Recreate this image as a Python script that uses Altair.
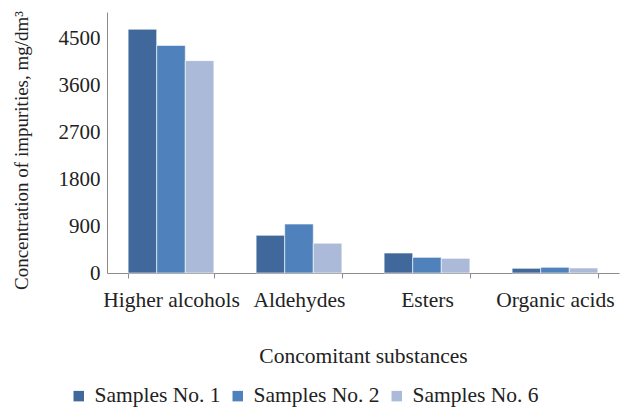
import altair as alt
import pandas as pd

categories = ["Higher alcohols", "Aldehydes", "Esters", "Organic acids"]
series = ["Samples No. 1", "Samples No. 2", "Samples No. 6"]
s1 = [4670, 722, 383, 90]
s2 = [4360, 938, 300, 109]
s6 = [4068, 570, 281, 96]
y_ticks = [0, 900, 1800, 2700, 3600, 4500]
colors = ["#41689A", "#4F81BD", "#ABBAD9"]

rows = []
for name, vals in zip(series, [s1, s2, s6]):
    for c, v in zip(categories, vals):
        rows.append({"category": c, "series": name, "value": v})
df = pd.DataFrame(rows)

FONT = "Liberation Serif"
FS = 21.5

chart = alt.Chart(df).mark_bar(stroke="white", strokeWidth=0.6).encode(
    x=alt.X("category:N", sort=categories,
            scale=alt.Scale(paddingInner=0.33, paddingOuter=0.165),
            axis=alt.Axis(title="Concomitant substances", labelAngle=0,
                          tickBand="extent", tickSize=5, labelPadding=11,
                          titlePadding=35, labelFontSize=FS, titleFontSize=FS)),
    xOffset=alt.XOffset("series:N", sort=series),
    y=alt.Y("value:Q", scale=alt.Scale(domain=[0, 5000], nice=False),
            axis=alt.Axis(title="Concentration of impurities, mg/dm³", format="d",
                          values=y_ticks, ticks=False, labelPadding=7,
                          titleX=-86, titleY=138, titleAlign="center",
                          titleBaseline="middle", titleAngle=270,
                          labelFontSize=21, titleFontSize=19)),
    color=alt.Color("series:N", sort=series,
                    scale=alt.Scale(domain=series, range=colors),
                    legend=alt.Legend(title=None, orient="none", direction="horizontal",
                                      legendX=-39, legendY=373, padding=0,
                                      symbolType="square",
                                      symbolSize=110, symbolStrokeWidth=0,
                                      labelFontSize=FS, columnPadding=6,
                                      labelOffset=5)),
).properties(
    width=512, height=261,
    padding={"left": 99, "top": 4, "right": 1, "bottom": 136},
    autosize=alt.AutoSizeParams(type="none"),
).configure_axis(
    labelFont=FONT, titleFont=FONT, labelColor="#222", titleColor="#222",
    titleFontWeight="normal", domainColor="#8c8c8c", tickColor="#8c8c8c",
    grid=False,
).configure_legend(
    labelFont=FONT, labelColor="#222",
).configure_view(stroke=None)

chart.save("out.html", embed_options={"renderer": "svg", "actions": False})
